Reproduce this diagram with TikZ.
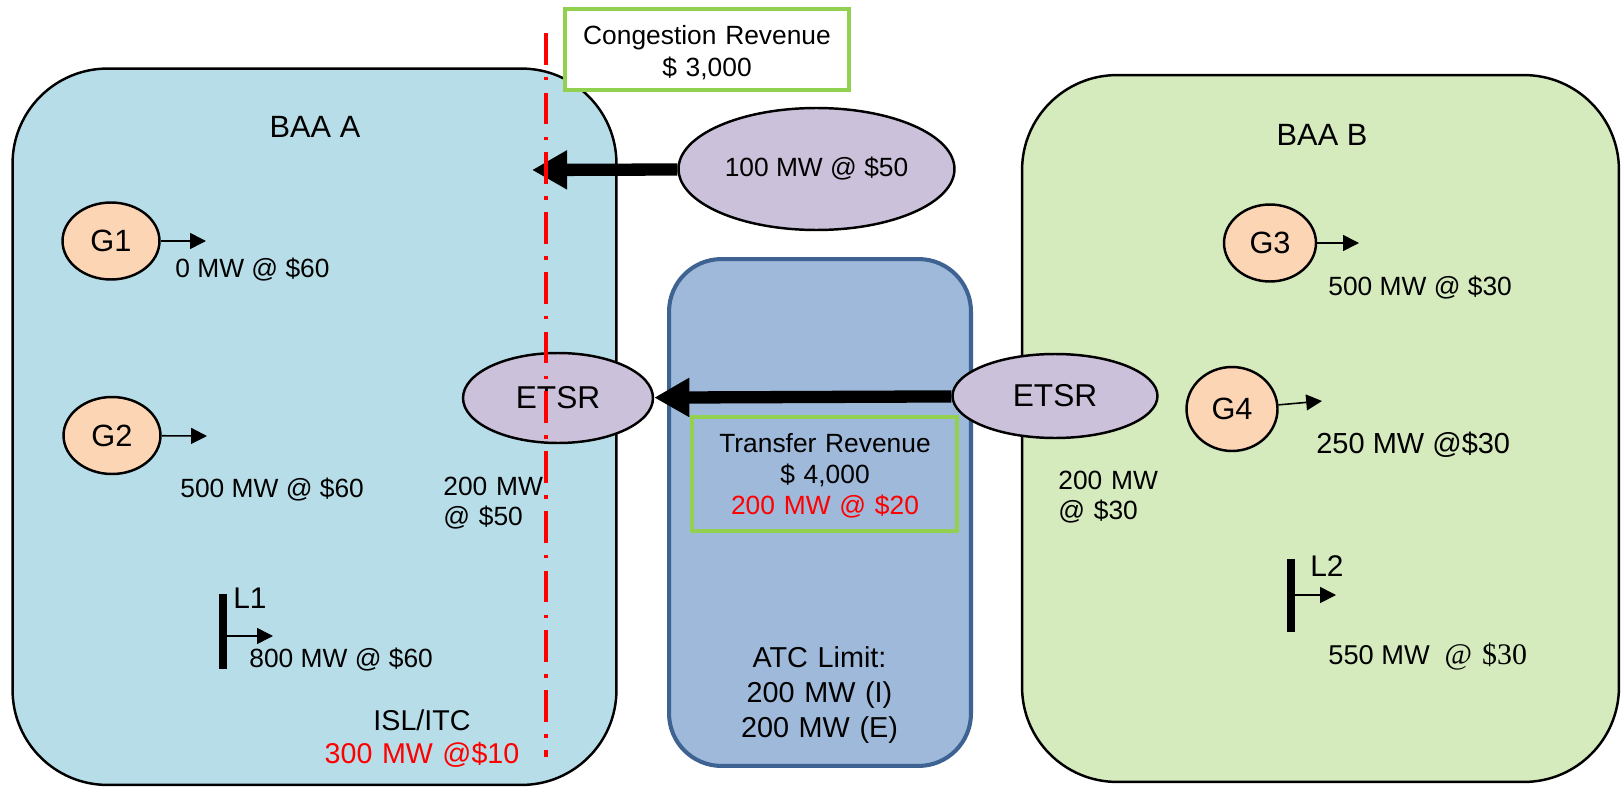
\documentclass[tikz,border=0pt]{standalone}
\usepackage{fontspec}
\setmainfont{Liberation Sans}
\newfontfamily\timesfont{Liberation Serif}
\usetikzlibrary{shapes.geometric, arrows.meta}

\definecolor{baaAfill}{HTML}{B7DEE8}
\definecolor{baaBfill}{HTML}{D5EABD}
\definecolor{atcfill}{HTML}{9EB9DA}
\definecolor{atcline}{HTML}{3E6392}
\definecolor{tsrfill}{HTML}{CCC1DA}
\definecolor{genfill}{HTML}{FCD5B5}
\definecolor{revline}{HTML}{92D050}

\tikzstyle{area} = [rectangle, rounded corners=1.9cm, draw=black, line width=1.4pt, inner sep=0pt]
\tikzstyle{atcbox} = [rectangle, rounded corners=1.05cm, draw=atcline, fill=atcfill, line width=2.3pt, inner sep=0pt, minimum width=6.04cm, minimum height=10.14cm]
\tikzstyle{revenue} = [rectangle, draw=revline, line width=2.3pt, inner sep=0pt]
\tikzstyle{etsr} = [ellipse, draw=black, fill=tsrfill, line width=1.4pt, inner sep=0pt, font=\fontsize{18}{21}\selectfont]
\tikzstyle{gen} = [ellipse, draw=black, fill=genfill, line width=1.4pt, inner sep=0pt, minimum width=1.94cm, minimum height=1.54cm, font=\fontsize{17.5}{20}\selectfont]
\tikzstyle{load} = [rectangle, fill=black, inner sep=0pt, minimum width=0.16cm]
\tikzstyle{lbl} = [inner sep=0pt, font=\fontsize{15}{18}\selectfont]
\tikzstyle{title} = [inner sep=0pt, anchor=base, font=\fontsize{17.5}{20}\selectfont]
\tikzstyle{flow} = [line width=0.9pt, -{Triangle[length=9pt,width=9pt]}]
\tikzstyle{bigflow} = [line width=7pt, -{Triangle[length=20pt,width=21pt]}]
\tikzstyle{isl} = [red, line width=2.2pt, dash pattern=on 18pt off 7pt on 2pt off 7pt]

\begin{document}
\begin{tikzpicture}[x=0.02cm, y=-0.02cm]
\useasboundingbox (0,0) rectangle (1621,787);

\node (baaA) [area, fill=baaAfill, minimum width=12.08cm, minimum height=14.33cm] at (314.5,426.75) {};
\node (baaB) [area, fill=baaBfill, minimum width=11.94cm, minimum height=14.14cm] at (1320.5,428.5) {};
\node (atc) [atcbox] at (820,512.5) {};
\node (congRev) [revenue, fill=white, minimum width=5.68cm, minimum height=1.62cm] at (707,49.5) {};
\node (transRev) [revenue, minimum width=5.3cm, minimum height=2.28cm] at (824.5,474) {};

\node (baaAtxt) [title] at (315,138) {BAA A};
\node (baaBtxt) [title] at (1322,146) {BAA B};

\node (congTxt) [lbl, text width=6cm, align=center, anchor=base] at (707,45) {Congestion Revenue\\\$ 3,000};
\node (transTxt) [lbl, font=\fontsize{15}{17.9}\selectfont, text width=6cm, align=center, anchor=base] at (825,452) {Transfer Revenue\\\$ 4,000\\\textcolor{red}{200 MW @ \$20}};
\node (atcTxt) [lbl, font=\fontsize{16.4}{20.1}\selectfont, text width=6cm, align=center, anchor=base] at (819.5,667) {ATC Limit:\\200 MW (I)\\200 MW (E)};
\node (islTxt) [lbl, font=\fontsize{16.3}{19.3}\selectfont, text width=5cm, align=center, anchor=base] at (422,730) {ISL/ITC\\\textcolor{red}{300 MW @\$10}};

\node (tsr100) [etsr, font=\fontsize{15}{18}\selectfont, minimum width=5.52cm, minimum height=2.44cm] at (816.5,169) {100 MW @ \$50};
\node (etsrA) [etsr, minimum width=3.8cm, minimum height=1.8cm] at (558,398) {ETSR};
\node (etsrB) [etsr, minimum width=4.1cm, minimum height=1.68cm] at (1055,396) {ETSR};

\node (g1) [gen] at (111,241) {G1};
\node (g2) [gen] at (112,435.5) {G2};
\node (g3) [gen, minimum width=1.84cm] at (1270,243) {G3};
\node (g4) [gen, minimum width=1.82cm, minimum height=1.68cm] at (1232,409) {G4};

\node (l1) [load, minimum height=1.5cm] at (222.5,631.5) {};
\node (l2) [load, minimum height=1.46cm] at (1291,595.5) {};
\node (l1txt) [lbl, font=\fontsize{17}{20}\selectfont, anchor=base west] at (233,608) {L1};
\node (l2txt) [lbl, font=\fontsize{17}{20}\selectfont, anchor=base west] at (1310,576) {L2};

\node (g1txt) [lbl, anchor=base west] at (175,277) {0 MW @ \$60};
\node (g2txt) [lbl, anchor=base west] at (180,497) {500 MW @ \$60};
\node (l1val) [lbl, anchor=base west] at (249,667) {800 MW @ \$60};
\node (etsrAtxt) [lbl, font=\fontsize{15}{17.6}\selectfont, text width=3cm, align=left, anchor=base west] at (443,495) {200 MW\\@ \$50};
\node (etsrBtxt) [lbl, font=\fontsize{15}{17.6}\selectfont, text width=3cm, align=left, anchor=base west] at (1058,489) {200 MW\\@ \$30};
\node (g3txt) [lbl, anchor=base west] at (1328,295) {500 MW @ \$30};
\node (g4txt) [lbl, font=\fontsize{16.5}{19}\selectfont, anchor=base west] at (1316,453) {250 MW @\$30};
\node (l2val) [lbl, font=\fontsize{15.5}{18}\selectfont, anchor=base west] at (1328,664) {550 MW\hspace{8.5pt}{\timesfont\fontsize{17}{20}\selectfont @\hspace{5.7pt}\$30}};

\coordinate (g1out) at (206,241);
\coordinate (g2out) at (207,436);
\coordinate (g3out) at (1359,243);
\coordinate (g4out) at (1322,401);
\coordinate (l1out) at (273,636);
\coordinate (l2out) at (1336,595);
\coordinate (congTip) at (532,170);
\coordinate (islTop) at (546,33);
\coordinate (islBot) at (546,757);

%% las flechas van despues de los nodos
\draw [flow] (g1) -- (g1out);
\draw [flow] (g2) -- (g2out);
\draw [flow] (g3) -- (g3out);
\draw [flow] (g4) -- (g4out);
\draw [flow] (l1out -| l1.east) -- (l1out);
\draw [flow] (l2out -| l2.east) -- (l2out);
\draw [bigflow] (tsr100) -- (congTip);
\draw [bigflow] (etsrB) -- (etsrA);

\draw [isl] (islTop) -- (islBot);

\end{tikzpicture}
\end{document}
